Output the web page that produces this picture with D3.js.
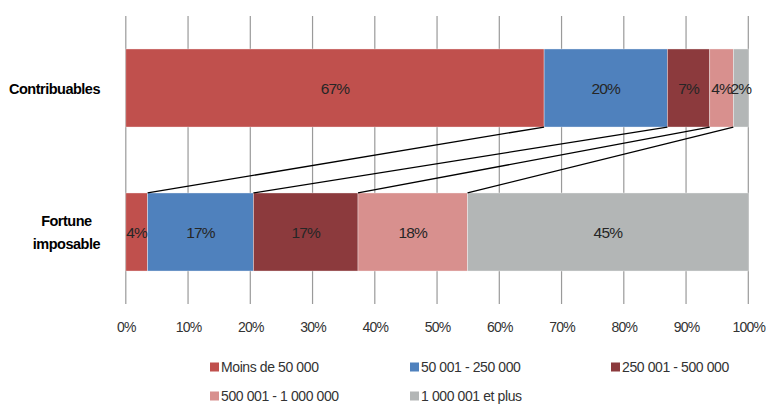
<!DOCTYPE html>
<html><head><meta charset="utf-8">
<script src="https://cdn.jsdelivr.net/npm/d3@7"></script>
<style>
html,body{margin:0;padding:0;background:#fff;}
svg{display:block;font-family:"Liberation Sans",Arial,sans-serif;}
</style></head>
<body>
<svg id="chart" width="766" height="406"></svg>
<script>
const categories = [["Contribuables"], ["Fortune", "imposable"]];
const series = ["Moins de 50 000", "50 001 - 250 000", "250 001 - 500 000", "500 001 - 1 000 000", "1 000 001 et plus"];
const contribuables = [67.2, 19.8, 6.8, 3.8, 2.4];
const fortune = [3.5, 17.0, 16.8, 17.6, 45.1];
const tickValues = [0, 10, 20, 30, 40, 50, 60, 70, 80, 90, 100];
const colors = ["#C0504D", "#4F81BD", "#8C3A3D", "#D8908E", "#B3B6B6"];

const svg = d3.select("#chart");
const x = d3.scaleLinear().domain([0, 100]).range([125.8, 748.3]);
const y = d3.scaleBand().domain([0, 1]).range([16, 304]).paddingInner(0.458).paddingOuter(0.229);

// gridlines
svg.append("g").selectAll("line").data(tickValues).join("line")
  .attr("x1", d => x(d)).attr("x2", d => x(d))
  .attr("y1", 16).attr("y2", 304)
  .attr("stroke", "#9a9a9a").attr("stroke-width", 1.2);

// x axis labels
const xAxis = d3.axisBottom(x).tickValues(tickValues).tickFormat(d => d + "%").tickSize(0).tickPadding(0);
const ax = svg.append("g").attr("transform", "translate(0,322)").call(xAxis);
ax.select(".domain").remove();
ax.selectAll("text").attr("font-size", 14).attr("fill", "#333")
  .attr("letter-spacing", "-0.8px").attr("font-family", "Liberation Sans, Arial, sans-serif");

const rows = [contribuables, fortune];
const stacked = rows.map(vals => {
  let acc = 0;
  return vals.map((v, i) => { const s = acc; acc += v; return {i, v, s, e: acc}; });
});

stacked.forEach((segs, r) => {
  const g = svg.append("g");
  g.selectAll("rect").data(segs).join("rect")
    .attr("x", d => x(d.s)).attr("width", d => x(d.e) - x(d.s))
    .attr("y", y(r)).attr("height", y.bandwidth())
    .attr("fill", d => colors[d.i])
    .attr("stroke", "#ffffff").attr("stroke-opacity", 0.5).attr("stroke-width", 0.7);
  g.selectAll("text").data(segs).join("text")
    .attr("x", d => x((d.s + d.e) / 2)).attr("y", y(r) + y.bandwidth() / 2 + 5.5)
    .attr("text-anchor", "middle").attr("font-size", 15.5).attr("letter-spacing", "-0.8px")
    .attr("fill", "#262626")
    .text(d => Math.round(d.v) + "%");
});

// connector lines
const conn = d3.range(1, series.length).map(i => ({a: stacked[0][i].s, b: stacked[1][i].s}));
svg.append("g").selectAll("line").data(conn).join("line")
  .attr("x1", d => x(d.a)).attr("y1", y(0) + y.bandwidth())
  .attr("x2", d => x(d.b)).attr("y2", y(1))
  .attr("stroke", "#000").attr("stroke-width", 1.3);

// category labels
categories.forEach((lines, r) => {
  const t = svg.append("text").attr("font-weight", "bold").attr("font-size", 14.5)
    .attr("letter-spacing", "-0.5px").attr("fill", "#000").attr("text-anchor", "middle");
  const cy = y(r) + y.bandwidth() / 2;
  const lh = 22.5;
  const tmp = lines.map(l => t.append("tspan").text(l));
  const widths = tmp.map(s => s.node().getComputedTextLength());
  const maxW = d3.max(widths);
  const cx = 100 - maxW / 2;
  tmp.forEach((s, k) => {
    s.attr("x", cx).attr("y", cy + 5.5 + (k - (lines.length - 1) / 2) * lh);
  });
});

// legend
const legendPos = [[210, 367], [410, 367], [611, 367], [210, 396], [410, 396]];
const lg = svg.append("g").selectAll("g").data(series).join("g")
  .attr("transform", (d, i) => `translate(${legendPos[i][0]},${legendPos[i][1]})`);
lg.append("rect").attr("x", 0).attr("y", -4.5).attr("width", 9).attr("height", 9)
  .attr("fill", (d, i) => colors[i]);
lg.append("text").attr("x", 11).attr("y", 5).attr("font-size", 14)
  .attr("letter-spacing", "-0.4px").attr("fill", "#333").text(d => d);
</script>
</body></html>
